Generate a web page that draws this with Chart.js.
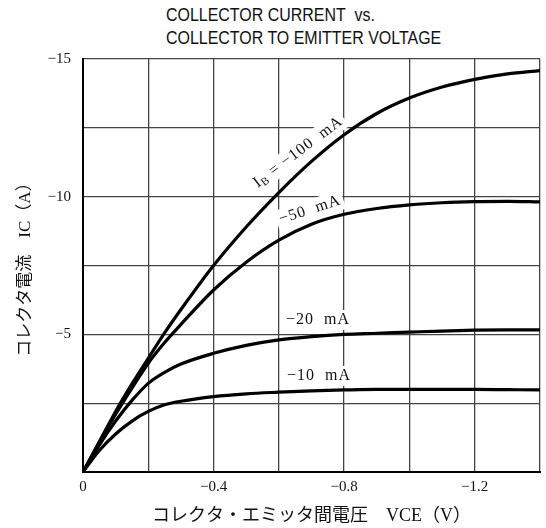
<!DOCTYPE html>
<html>
<head>
<meta charset="utf-8">
<script src="https://cdn.jsdelivr.net/npm/chart.js@4.4.1/dist/chart.umd.min.js"></script>
<style>
    html, body { margin: 0; padding: 0; background: #fff; }
    #wrap { position: relative; width: 546px; height: 528px; }
    #chartTitle {
        position: absolute; left: 166px; top: 3px;
        font-family: 'Liberation Sans', Arial, sans-serif; font-size: 19px; line-height: 23px;
        color: #111; white-space: nowrap;
        transform: scaleX(0.84); transform-origin: left top;
    }
    canvas { position: absolute; left: 0; top: 0; }
</style>
</head>
<body>
<div id="wrap">
    <div id="chartTitle">COLLECTOR CURRENT&nbsp; vs.<br>COLLECTOR TO EMITTER VOLTAGE</div>
    <canvas id="myChart" width="546" height="528"></canvas>
</div>
<script>
// V_CE (V), közös x pontok minden görbéhez
const vce = [0, -0.05, -0.1, -0.15, -0.2, -0.25, -0.3, -0.4, -0.5, -0.6, -0.7, -0.8, -0.9, -1.0, -1.1, -1.2, -1.3, -1.4];

// I_C (A) görbék, I_B szerint
const ic10 = [0, -0.78, -1.38, -1.85, -2.2, -2.44, -2.57, -2.74, -2.84, -2.9, -2.95, -2.98, -3.0, -3.0, -3.0, -3.0, -2.99, -2.98];
const ic20 = [0, -0.98, -1.85, -2.6, -3.22, -3.62, -3.92, -4.31, -4.6, -4.8, -4.92, -5.0, -5.04, -5.08, -5.12, -5.15, -5.16, -5.16];
const ic50 = [0, -1.08, -2.1, -3.05, -3.95, -4.7, -5.36, -6.61, -7.62, -8.42, -9.0, -9.36, -9.57, -9.7, -9.78, -9.82, -9.83, -9.81];
const ic100 = [0, -1.1, -2.2, -3.2, -4.13, -5.05, -5.9, -7.5, -8.9, -10.15, -11.28, -12.25, -13.02, -13.58, -13.98, -14.26, -14.46, -14.58];

const ibLabels = ['−10  mA', '−20  mA', '−50  mA', '−100  mA'];

const xTickValues = [0, -0.4, -0.8, -1.2];
const xTickLabels = ['0', '−0.4', '−0.8', '−1.2'];
const yTickValues = [-5, -10, -15];
const yTickLabels = ['−5', '−10', '−15'];

// feliratok helye (adat koordinátában) és dőlésszöge
const labelSpots = [
    { x: -0.723, y: -3.49, rot: 0 },
    { x: -0.72, y: -5.52, rot: 0 },
    { x: -0.695, y: -9.52, rot: -18 },
    { x: -0.659, y: -11.62, rot: -37, prefix: true },
];

const serif = '"Liberation Serif", "Noto Sans CJK JP", serif';

const toPoints = (ys) => vce.map((v, i) => ({ x: v, y: ys[i] }));

const curveLabels = {
    id: 'curveLabels',
    beforeDatasetsDraw(chart) {
        const { ctx, scales: { x, y } } = chart;
        labelSpots.forEach((s, i) => {
            const parts = [];
            if (s.prefix) {
                parts.push({ t: 'I', size: 16, dy: 0 });
                parts.push({ t: 'B', size: 11, dy: 4 });
                parts.push({ t: ' = ', size: 16, dy: 0 });
            }
            parts.push({ t: ibLabels[i], size: 16, dy: 0 });

            ctx.save();
            ctx.translate(x.getPixelForValue(s.x), y.getPixelForValue(s.y));
            ctx.rotate(s.rot * Math.PI / 180);
            ctx.textBaseline = 'middle';
            ctx.letterSpacing = '1px';
            let w = 0;
            parts.forEach(p => {
                ctx.font = p.size + 'px ' + serif;
                p.w = ctx.measureText(p.t).width;
                w += p.w;
            });
            ctx.fillStyle = '#fff';
            ctx.fillRect(-w / 2 - 3, -10, w + 6, 20);
            ctx.fillStyle = '#111';
            let cx = -w / 2;
            parts.forEach(p => {
                ctx.font = p.size + 'px ' + serif;
                ctx.fillText(p.t, cx, p.dy);
                cx += p.w;
            });
            ctx.restore();
        });
    }
};

const lineStyle = {
    borderColor: '#000',
    borderWidth: 3.2,
    pointRadius: 0,
    fill: false,
    cubicInterpolationMode: 'monotone',
};

const data = {
    datasets: [
        { label: ibLabels[0], data: toPoints(ic10), ...lineStyle },
        { label: ibLabels[1], data: toPoints(ic20), ...lineStyle },
        { label: ibLabels[2], data: toPoints(ic50), ...lineStyle },
        { label: ibLabels[3], data: toPoints(ic100), ...lineStyle },
    ]
};

const config = {
    type: 'line',
    data,
    plugins: [curveLabels],
    options: {
        responsive: false,
        animation: false,
        events: [],
        layout: { padding: { top: 59, right: 2, left: 0, bottom: 0 } },
        plugins: {
            legend: { display: false },
            tooltip: { enabled: false },
        },
        scales: {
            x: {
                type: 'linear',
                min: -1.4,
                max: 0,
                reverse: true,
                afterFit: (scale) => { scale.height = 56; },
                border: { color: '#000', width: 2 },
                grid: {
                    color: '#444',
                    lineWidth: (c) => c.index === 0 ? 2 : 1.3,
                    drawTicks: false,
                },
                ticks: {
                    stepSize: 0.2,
                    autoSkip: false,
                    maxRotation: 0,
                    padding: 6,
                    color: '#111',
                    font: { family: serif, size: 15 },
                    callback: (v) => {
                        const k = xTickValues.findIndex(t => Math.abs(t - v) < 1e-6);
                        return k >= 0 ? xTickLabels[k] : '';
                    }
                },
                title: {
                    display: true,
                    text: 'コレクタ・エミッタ間電圧　VCE（V）',
                    color: '#111',
                    font: { family: serif, size: 18 },
                    padding: { top: 0, bottom: 1 },
                }
            },
            y: {
                min: -15,
                max: 0,
                reverse: true,
                afterFit: (scale) => { scale.width = 83; },
                border: { color: '#000', width: 2 },
                grid: {
                    color: '#444',
                    lineWidth: (c) => c.index === 0 ? 2 : 1.3,
                    drawTicks: false,
                },
                ticks: {
                    stepSize: 2.5,
                    autoSkip: false,
                    padding: 12,
                    color: '#111',
                    font: { family: serif, size: 15 },
                    callback: (v) => {
                        const k = yTickValues.findIndex(t => Math.abs(t - v) < 1e-6);
                        return k >= 0 ? yTickLabels[k] : '';
                    }
                },
                title: {
                    display: true,
                    text: 'コレクタ電流　IC（A）',
                    color: '#111',
                    font: { family: serif, size: 17 },
                    padding: { top: 15, bottom: 0 },
                }
            }
        }
    }
};

var myChart = new Chart(document.getElementById('myChart'), config);
</script>
</body>
</html>
